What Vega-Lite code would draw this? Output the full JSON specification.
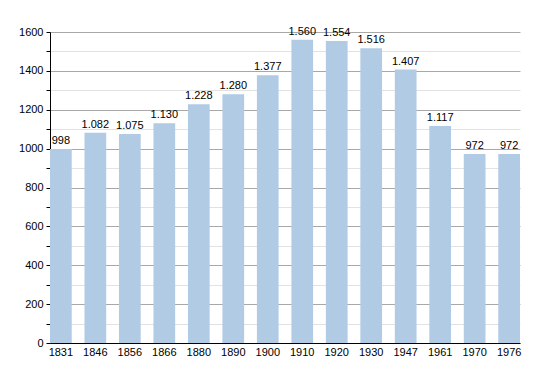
{
  "$schema": "https://vega.github.io/schema/vega-lite/v6.json",
  "autosize": "none",
  "width": 470,
  "height": 311,
  "padding": {"left": 50, "top": 32, "right": 30, "bottom": 30},
  "background": "white",
  "config": {
    "view": {"stroke": null},
    "font": "Liberation Sans",
    "axis": {"labelFont": "Liberation Sans", "labelFontSize": 11, "labelColor": "#000"}
  },
  "data": {
    "values": [
      {"year": "1831", "pop": 998, "label": "998"},
      {"year": "1846", "pop": 1082, "label": "1.082"},
      {"year": "1856", "pop": 1075, "label": "1.075"},
      {"year": "1866", "pop": 1130, "label": "1.130"},
      {"year": "1880", "pop": 1228, "label": "1.228"},
      {"year": "1890", "pop": 1280, "label": "1.280"},
      {"year": "1900", "pop": 1377, "label": "1.377"},
      {"year": "1910", "pop": 1560, "label": "1.560"},
      {"year": "1920", "pop": 1554, "label": "1.554"},
      {"year": "1930", "pop": 1516, "label": "1.516"},
      {"year": "1947", "pop": 1407, "label": "1.407"},
      {"year": "1961", "pop": 1117, "label": "1.117"},
      {"year": "1970", "pop": 972, "label": "972"},
      {"year": "1976", "pop": 972, "label": "972"}
    ]
  },
  "encoding": {
    "x": {
      "field": "year", "type": "ordinal", "sort": null,
      "scale": {"paddingInner": 0.37, "paddingOuter": 0},
      "axis": {"title": null, "labelAngle": 0, "ticks": false, "domainColor": "#000", "labelPadding": 3, "grid": false}
    },
    "y": {
      "field": "pop", "type": "quantitative",
      "scale": {"domain": [0, 1600], "nice": false},
      "axis": {
        "title": null,
        "values": [0,100,200,300,400,500,600,700,800,900,1000,1100,1200,1300,1400,1500,1600],
        "labelExpr": "datum.value % 200 === 0 ? datum.value : ''",
        "grid": true,
        "gridColor": {"condition": {"test": "datum.value % 200 === 0", "value": "#a8a8a8"}, "value": "#e2e2e2"},
        "gridOpacity": 1,
        "domainColor": "#000",
        "tickColor": "#000",
        "tickSize": 4,
        "labelPadding": 3
      }
    }
  },
  "layer": [
    {"mark": {"type": "bar", "color": "#b1cbe5"}},
    {
      "mark": {"type": "text", "baseline": "bottom", "dy": -3, "fontSize": 11, "color": "#000"},
      "encoding": {"text": {"field": "label"}}
    }
  ]
}
